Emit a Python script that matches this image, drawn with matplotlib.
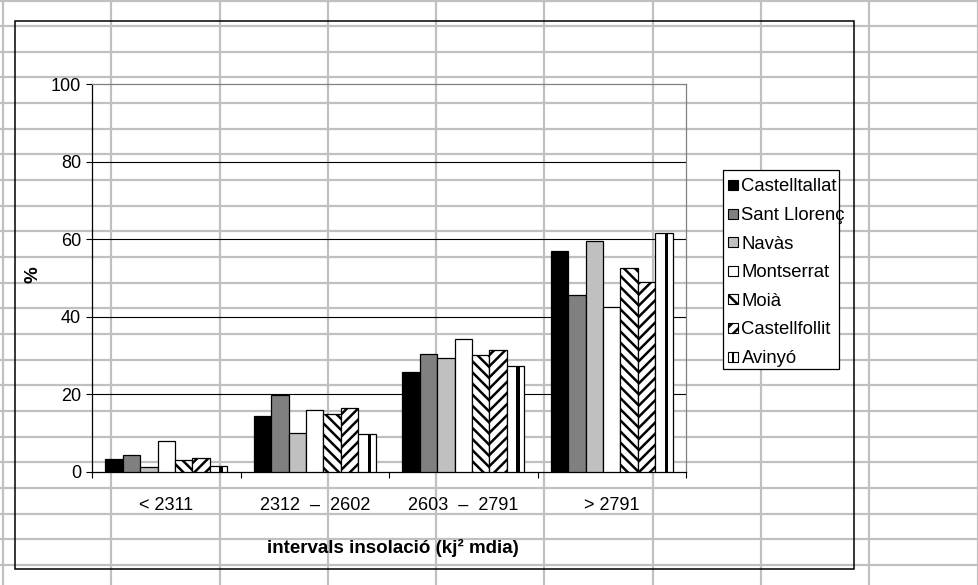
import matplotlib
matplotlib.use("Agg")
import matplotlib.pyplot as plt
from matplotlib.patches import Rectangle
import numpy as np

plt.rcParams["font.family"] = ["Liberation Sans", "DejaVu Sans"]
plt.rcParams["hatch.linewidth"] = 1.8

# ---- data -------------------------------------------------------------
categories = ["< 2311", "2312  –  2602", "2603  –  2791", "> 2791"]
series_names = ["Castelltallat", "Sant Llorenç", "Navàs", "Montserrat",
                "Moià", "Castellfollit", "Avinyó"]
castelltallat = [3.2, 14.4, 25.8, 56.9]
sant_llorenc = [4.2, 19.8, 30.4, 45.5]
navas = [1.1, 10.0, 29.2, 59.5]
montserrat = [7.8, 16.0, 34.1, 42.5]
moia = [2.9, 14.8, 30.1, 52.5]
castellfollit = [3.4, 16.3, 31.3, 49.0]
avinyo = [1.5, 9.7, 27.2, 61.5]
y_ticks = [0, 20, 40, 60, 80, 100]

series_values = [castelltallat, sant_llorenc, navas, montserrat,
                 moia, castellfollit, avinyo]

# ---- styles -----------------------------------------------------------
face_colors = ["black", "#808080", "#c0c0c0", "white", "white", "white", "white"]
hatches = [None, None, None, None, "\\\\\\", "///", None]
striped = [False, False, False, False, False, False, True]

W, H = 979, 585
fig = plt.figure(figsize=(W / 100, H / 100), dpi=100)
fig.patch.set_facecolor("white")

# worksheet background grid, drawn in pixel coordinates
bg = fig.add_axes([0, 0, 1, 1], zorder=0)
bg.set_xlim(0, W)
bg.set_ylim(H, 0)
bg.axis("off")
sheet_grey = "#c0c0c0"
for k in range(10):
    bg.axvline(3 + 108.3 * k, color=sheet_grey, lw=1.6)
for k in range(24):
    bg.axhline(0.5 + 25.65 * k, color=sheet_grey, lw=1.6)

# chart area frame
bg.add_patch(Rectangle((15.3, 20.7), 854 - 15.3, 569 - 20.7,
                       fill=False, ec="black", lw=1.1, zorder=3))

# ---- plot area --------------------------------------------------------
x0, x1 = 92, 686
y_top, y_bot = 84.3, 471.5
ax = fig.add_axes([x0 / W, (H - y_bot) / H, (x1 - x0) / W, (y_bot - y_top) / H],
                  zorder=2)
ax.patch.set_alpha(0)

n = len(series_names)
slot = 1.0 / (n + 1.5)
x = np.arange(len(categories))
for i, (name, vals) in enumerate(zip(series_names, series_values)):
    centers = x - 0.5 + 0.75 * slot + (i + 0.5) * slot
    ax.bar(centers, vals, width=slot, color=face_colors[i], edgecolor="black",
           hatch=hatches[i], linewidth=0.9, label=name, zorder=3)
    if striped[i]:
        ax.bar(centers + 0.12 * slot, vals, width=0.2 * slot, color="black",
               linewidth=0, zorder=4)

ax.set_xlim(-0.5, len(categories) - 0.5)
ax.set_ylim(0, 100)
ax.set_yticks(y_ticks)
ax.set_yticklabels([str(t) for t in y_ticks], fontsize=13)
ax.set_xticks(x)
ax.set_xticklabels(categories, fontsize=13)
ax.set_xticks(np.arange(-0.5, len(categories), 1.0), minor=True)
ax.tick_params(axis="x", which="major", length=0, pad=18)
ax.tick_params(axis="x", which="minor", length=4, width=0.8, direction="out")
ax.tick_params(axis="y", length=4, width=0.8, direction="out", pad=4)

ax.yaxis.grid(True, color="black", lw=0.8, zorder=1)
ax.set_axisbelow(True)
gl = ax.yaxis.get_gridlines()
gl[0].set_visible(False)
gl[-1].set_visible(False)

for side in ("left", "bottom"):
    ax.spines[side].set_color("black")
    ax.spines[side].set_linewidth(0.9)
for side in ("top", "right"):
    ax.spines[side].set_color("#808080")
    ax.spines[side].set_linewidth(0.9)

ax.set_xlabel("intervals insolació (kj² mdia)", fontsize=13.5,
              fontweight="bold", va="center")
ax.xaxis.set_label_coords((393 - x0) / (x1 - x0), -(548 - y_bot) / (y_bot - y_top))
ax.set_ylabel("%", fontsize=13.5, fontweight="bold", va="center")
ax.yaxis.set_label_coords(-(x0 - 33) / (x1 - x0), (y_bot - 275) / (y_bot - y_top))

# ---- legend -----------------------------------------------------------
leg_left, leg_top, leg_w, leg_h = 722.7, 170.0, 116.6, 199.3
leg_box = Rectangle((leg_left, leg_top), leg_w, leg_h, fc="white",
                    ec="black", lw=0.9, zorder=5)
bg.add_patch(leg_box)
for i, name in enumerate(series_names):
    yc = 185 + 28.6 * i
    bg.add_patch(Rectangle((727.7, yc - 5), 10, 10, fc=face_colors[i],
                           ec="black", hatch=hatches[i], lw=0.8, zorder=6))
    if striped[i]:
        bg.add_patch(Rectangle((732.0, yc - 5), 2.2, 10, fc="black",
                               lw=0, zorder=7))
    t = bg.text(741.5, yc + 6.4, name, fontsize=13.3, va="baseline",
                ha="left", zorder=7)
    t.set_clip_path(leg_box)

fig.savefig("out.png", dpi=100, facecolor="white")
